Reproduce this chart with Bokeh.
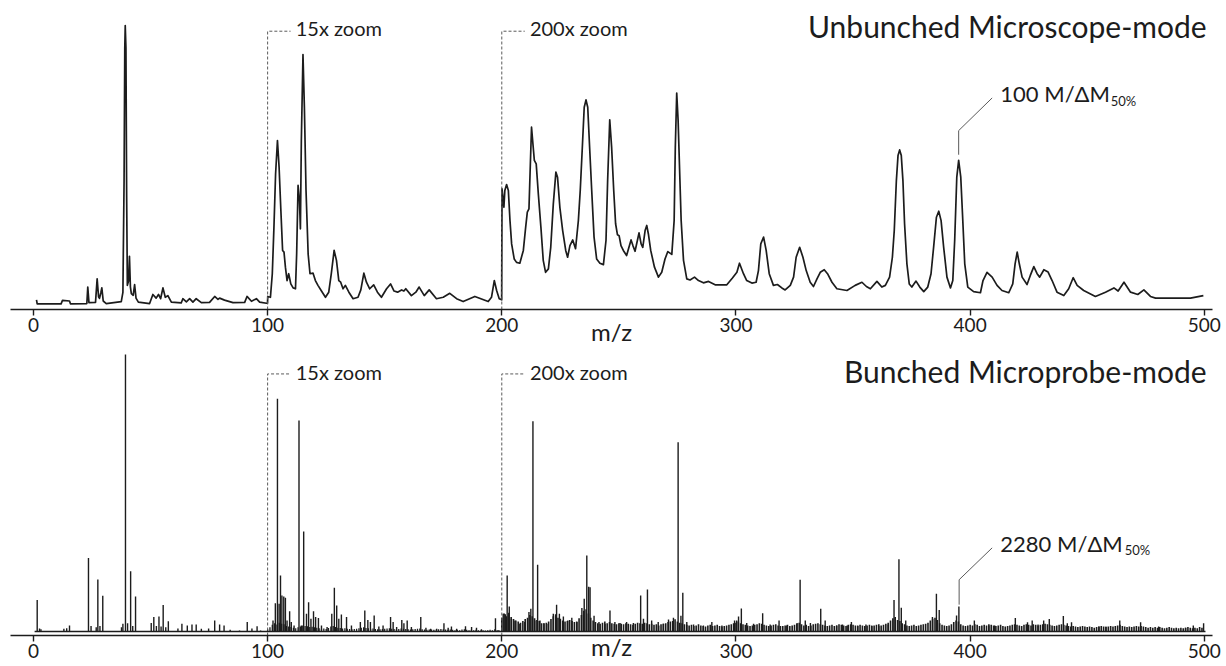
from bokeh.plotting import figure
from bokeh.models import Range1d, FixedTicker, Label
from bokeh.layouts import column
from bokeh.embed import file_html
from bokeh.resources import INLINE

# ---------------- data ----------------
tick_values = [0, 100, 200, 300, 400, 500]
tick_labels = ["0", "100", "200", "300", "400", "500"]
zoom_starts = [100, 200]
zoom_labels = ["15x zoom", "200x zoom"]

# Unbunched microscope-mode: continuous trace (displayed intensity, % of tallest peak)
trace_mz_0_100 = [1.3, 1.6, 11.8, 12.4, 15.4, 15.8, 22.8, 23.2, 23.7, 26.5,
                  27.2, 27.8, 28.2, 28.8, 29.2, 29.8, 31.1, 37.5, 38.2, 38.7,
                  39.0, 39.2, 39.5, 39.8, 40.1, 40.6, 41.0, 41.4, 41.8, 42.6,
                  43.2, 43.8, 44.8, 49.6, 51.0, 52.4, 53.4, 54.3, 55.3, 56.3,
                  57.4, 58.9, 63.1, 63.8, 65.3, 66.7, 68.1, 69.5, 71.7, 75.2,
                  77.4, 78.8, 79.5, 81.6, 85.2, 90.2, 91.2, 93.1, 95.2, 96.6,
                  99.5, 99.95]
trace_int_0_100 = [3.4, 2.0, 2.0, 3.2, 3.0, 2.0, 2.1, 7.9, 2.4, 2.5,
                   10.8, 4.5, 3.9, 6.0, 7.6, 3.0, 2.1, 2.8, 6.0, 45.0,
                   92.0, 100.0, 92.0, 40.0, 8.5, 10.0, 18.7, 8.0, 5.6, 5.0,
                   8.8, 4.0, 2.6, 2.1, 5.3, 4.0, 5.3, 3.8, 7.6, 4.3,
                   4.9, 2.6, 2.3, 3.8, 2.7, 3.8, 2.6, 3.8, 2.4, 2.5,
                   4.6, 3.6, 4.0, 3.3, 2.4, 2.5, 4.6, 2.9, 3.8, 2.6,
                   2.2, 2.2]
trace_mz_100_200 = [100.05, 101.2, 102.0, 102.7, 103.4, 104.2, 104.9, 105.6, 106.4, 107.0,
                    107.6, 108.3, 109.0, 109.9, 110.9, 111.9, 112.4, 113.0, 113.6, 114.0,
                    114.4, 115.1, 115.7, 116.4, 117.3, 118.1, 119.4, 120.4, 121.5, 123.0,
                    124.7, 126.1, 127.2, 128.4, 129.4, 130.4, 131.2, 132.2, 133.2, 134.7,
                    136.5, 138.6, 139.8, 141.1, 142.2, 143.6, 145.3, 146.9, 148.6, 150.8,
                    152.5, 154.0, 155.5, 157.2, 158.2, 159.0, 161.4, 163.3, 164.7, 166.9,
                    169.0, 172.1, 175.0, 177.8, 180.7, 183.5, 188.5, 194.2, 195.6, 196.8,
                    197.8, 198.9, 199.95]
trace_int_100_200 = [4.6, 4.3, 12.6, 29.0, 47.7, 59.5, 50.1, 36.0, 20.8, 20.2,
                     14.9, 10.2, 12.6, 9.0, 7.6, 7.3, 19.6, 43.7, 38.4, 28.4,
                     59.5, 89.8, 71.2, 41.9, 19.6, 12.6, 12.8, 10.2, 8.5, 6.5,
                     4.3, 6.1, 12.6, 20.8, 17.3, 10.2, 9.6, 7.3, 8.5, 6.1,
                     3.8, 4.3, 6.9, 12.8, 9.6, 7.3, 8.7, 6.1, 4.3, 7.3,
                     9.0, 6.5, 6.1, 6.9, 6.5, 7.3, 4.9, 6.1, 7.9, 4.9,
                     6.9, 3.8, 4.3, 5.7, 3.8, 2.8, 4.6, 2.8, 4.3, 10.2,
                     6.7, 3.8, 3.4]
trace_mz_200_300 = [200.1, 200.9, 201.3, 202.05, 202.8, 203.5, 204.2, 205.3, 206.3, 207.7,
                    209.2, 210.2, 210.9, 211.6, 212.2, 212.7, 213.3, 213.9, 214.7, 215.6,
                    216.7, 217.7, 218.7, 219.9, 220.9, 222.0, 223.1, 223.8, 224.8, 226.0,
                    227.3, 228.1, 229.1, 230.3, 231.5, 232.7, 233.5, 234.4, 235.2, 235.96,
                    236.7, 237.5, 238.4, 239.4, 240.5, 241.9, 243.4, 244.5, 245.2, 246.1,
                    246.9, 247.8, 248.6, 249.4, 250.1, 250.9, 251.9, 253.3, 254.3, 255.2,
                    256.0, 256.9, 257.9, 258.6, 259.5, 260.2, 261.2, 261.9, 262.6, 263.6,
                    265.2, 266.9, 268.3, 269.7, 270.9, 272.6, 273.6, 274.1, 274.7, 275.3,
                    275.9, 276.6, 277.6, 279.0, 280.4, 282.3, 284.0, 286.1, 288.3, 291.1,
                    296.1, 298.5, 300.4, 301.5]
trace_int_200_300 = [42.5, 36.0, 41.9, 44.0, 41.9, 31.3, 23.1, 17.8, 16.6, 16.3,
                     20.8, 29.0, 34.3, 35.4, 51.3, 64.2, 58.3, 52.5, 51.3, 40.7,
                     29.0, 17.3, 13.1, 14.3, 21.9, 37.2, 48.4, 46.6, 36.0, 27.8,
                     20.8, 18.4, 22.5, 24.5, 21.4, 31.3, 41.9, 57.2, 71.2, 73.8,
                     71.2, 57.2, 41.9, 25.5, 17.8, 16.3, 15.8, 24.3, 45.4, 66.8,
                     57.2, 41.9, 30.2, 26.3, 26.0, 22.5, 20.8, 19.0, 21.9, 24.5,
                     22.5, 20.5, 24.3, 27.0, 23.1, 21.9, 27.8, 29.6, 26.6, 20.8,
                     14.9, 11.4, 13.1, 17.8, 20.4, 19.4, 31.3, 57.2, 76.2, 66.5,
                     50.1, 31.3, 17.3, 10.8, 10.4, 11.4, 10.2, 9.4, 9.9, 8.7,
                     8.7, 11.1, 13.1, 16.3]
trace_mz_300_405 = [303.2, 304.6, 306.8, 308.6, 309.6, 310.6, 311.8, 312.9, 314.2, 316.0,
                    317.7, 319.6, 321.0, 323.2, 324.6, 325.7, 327.2, 328.6, 330.0, 331.7,
                    333.1, 334.6, 336.0, 337.7, 339.1, 341.0, 343.1, 347.4, 350.9, 353.8,
                    355.7, 357.4, 360.2, 362.3, 363.8, 365.6, 366.8, 367.6, 368.5, 369.2,
                    369.9, 370.6, 371.3, 372.0, 373.0, 374.0, 375.1, 376.9, 378.5, 380.2,
                    381.9, 383.3, 384.4, 385.6, 386.6, 387.6, 388.7, 390.1, 391.6, 392.6,
                    393.4, 394.3, 395.1, 396.0, 396.8, 397.7, 399.0, 401.5, 404.4]
trace_int_300_405 = [12.6, 10.2, 9.3, 9.6, 13.7, 23.1, 25.5, 20.8, 12.6, 8.5,
                     8.8, 7.6, 6.9, 8.5, 11.4, 18.4, 21.9, 18.4, 13.7, 9.6,
                     8.1, 10.8, 13.1, 14.0, 12.6, 9.6, 7.3, 6.7, 8.5, 9.6,
                     8.1, 7.3, 9.9, 7.9, 8.5, 11.4, 18.4, 27.8, 45.4, 54.2,
                     56.2, 54.2, 45.4, 30.2, 16.1, 9.0, 7.9, 10.0, 7.9, 6.3,
                     7.9, 12.6, 21.9, 32.5, 34.6, 31.3, 21.9, 11.4, 7.6, 10.2,
                     24.3, 46.6, 52.5, 46.6, 32.5, 16.1, 7.9, 6.3, 5.9]
trace_mz_405_500 = [405.5, 407.2, 409.4, 411.5, 413.6, 416.5, 418.2, 419.2, 420.1, 421.0,
                    422.2, 424.3, 425.7, 427.2, 428.6, 429.7, 431.5, 433.3, 435.0, 437.1,
                    440.0, 442.1, 444.0, 445.7, 448.5, 453.5, 457.8, 461.4, 463.2, 465.7,
                    468.5, 471.6, 474.2, 477.0, 479.2, 487.0, 494.1, 499.6]
trace_int_405_500 = [10.2, 13.1, 11.4, 8.5, 6.7, 5.9, 9.0, 16.1, 20.2, 16.1,
                     11.4, 8.8, 12.0, 15.1, 12.6, 11.4, 14.0, 13.2, 10.2, 6.1,
                     4.9, 7.3, 11.2, 8.5, 6.7, 4.6, 6.1, 7.6, 6.5, 9.6,
                     6.1, 5.3, 6.9, 4.6, 4.0, 4.0, 4.0, 4.9]

# Bunched microprobe-mode: resolved peaks (stick heights, % of tallest)
stick_mz = [1.6, 2.6, 3.2, 13.0, 14.2, 15.4, 23.5, 24.6, 26.8, 27.5, 28.4, 29.6, 37.6, 38.2, 39.3,
            40.2, 41.5, 42.4, 43.6, 50.3, 51.4, 52.5, 53.6, 54.5, 55.4, 56.5, 57.6, 61.7, 63.4,
            65.7, 67.7, 69.5, 71.7, 74.8, 77.4, 79.5, 81.4, 84.0, 88.0, 91.3, 93.3, 95.5, 97.0,
            102.3, 103.3, 104.2, 104.9, 105.5, 106.1, 106.9, 107.6, 108.3, 109.4, 110.1, 111.3,
            113.4, 114.4, 115.4, 116.6, 117.5, 118.5, 119.6, 120.5, 121.7, 123.0, 125.4, 127.4,
            128.5, 129.5, 130.4, 131.5, 133.7, 135.8, 139.6, 141.5, 142.8, 143.9, 145.5, 147.5,
            149.3, 152.5, 153.6, 155.1, 157.3, 158.2, 159.6, 161.4, 165.4, 167.6, 169.6, 172.2,
            175.3, 177.1, 178.5, 180.7, 184.5, 187.1, 189.2, 191.3, 197.3, 198.5,
            200.6, 201.5, 202.3, 203.2, 204.1, 205.6, 207.7, 209.8, 211.6, 212.4, 213.3, 214.1,
            215.3, 216.3, 218.0, 219.8, 222.0, 223.4, 224.6, 226.3, 228.2, 229.9, 232.1, 234.2,
            235.2, 236.3, 237.1, 237.7, 239.4, 241.5, 244.1, 246.2, 248.3, 250.5, 253.3, 256.2,
            259.3, 260.5, 262.2, 264.0, 266.8, 269.0, 271.2, 273.3, 275.3, 276.5, 277.3, 279.0,
            281.9, 286.1, 289.7, 294.0, 299.4,
            300.3, 301.1, 302.3, 304.6, 307.5, 311.4, 314.6, 318.4, 321.7, 326.1, 327.4, 329.6,
            331.8, 336.2, 338.1, 343.0, 345.5, 347.5, 349.3, 352.0, 355.5, 358.0, 361.0, 365.0,
            367.5, 369.6, 370.6, 372.5, 383.9, 385.6, 386.8, 394.2, 395.2, 401.8, 408.0, 410.5,
            419.3, 424.5, 426.5, 429.0, 431.4, 433.8, 439.8, 441.5, 443.3, 455.0, 458.0, 463.9,
            472.8, 480.5, 492.0, 495.3, 499.7]
stick_h = [11.4, 1.1, 0.8, 1.0, 1.2, 2.2, 26.5, 2.0, 1.5, 18.8, 2.0, 12.9, 1.5, 2.8, 100.0,
           3.0, 21.8, 2.0, 12.6, 3.1, 5.2, 2.0, 5.4, 1.8, 9.6, 1.5, 3.7, 1.1, 2.8,
           2.2, 2.5, 2.5, 1.0, 1.1, 4.0, 2.5, 2.2, 0.6, 0.4, 3.4, 1.1, 1.9, 0.4,
           4.0, 10.2, 84.0, 10.0, 20.2, 13.0, 12.6, 12.2, 4.0, 7.3, 3.4, 2.2,
           76.2, 2.2, 36.1, 6.4, 10.6, 4.6, 7.3, 5.2, 4.9, 2.2, 1.6, 6.4,
           15.8, 9.4, 4.6, 6.1, 5.2, 2.2, 3.4, 7.6, 4.2, 3.4, 5.8, 1.8,
           2.2, 5.2, 3.4, 1.6, 4.2, 3.0, 4.0, 1.6, 5.2, 1.4, 1.0, 1.0,
           3.0, 1.4, 1.8, 1.0, 1.9, 1.6, 1.4, 0.8, 4.8, 0.5,
           6.4, 6.2, 20.2, 9.0, 4.6, 4.0, 2.8, 3.4, 7.0, 8.2, 75.9, 4.0,
           24.1, 4.0, 3.1, 2.8, 6.4, 9.7, 6.4, 5.4, 4.0, 5.0, 3.4, 8.5,
           11.8, 27.4, 16.2, 16.0, 5.7, 3.4, 2.8, 7.6, 3.4, 3.1, 3.4, 3.1,
           13.0, 4.6, 15.2, 4.0, 3.4, 2.8, 4.3, 5.0, 68.3, 5.7, 14.0, 3.4,
           2.5, 2.2, 3.4, 2.2, 4.0,
           4.0, 5.4, 8.3, 3.1, 2.8, 6.6, 2.5, 4.0, 2.2, 3.1, 18.7, 4.0,
           3.1, 8.2, 4.0, 2.2, 2.5, 2.2, 3.4, 2.2, 2.5, 2.2, 2.0, 2.5,
           11.4, 26.1, 8.6, 4.0, 5.2, 13.6, 7.8, 5.8, 9.0, 4.0, 2.2, 2.2,
           4.9, 3.3, 4.0, 2.5, 4.0, 4.5, 5.6, 3.0, 3.3, 1.8, 1.8, 4.0,
           3.3, 1.8, 1.4, 2.2, 3.0]

# unresolved low-level peaks (one value per m/z unit)
grass_lo_start = 100
grass_lo = [0.8, 1.5, 2.4, 3.0, 2.5, 3.2, 2.8, 2.6, 2.0, 1.8,
            1.6, 1.4, 1.2, 1.5, 1.8, 2.2, 2.0, 1.9, 1.6, 1.7,
            1.5, 1.4, 1.2, 1.0, 1.1, 0.9, 1.3, 1.8, 2.0, 1.6,
            1.4, 1.3, 1.1, 1.2, 1.0, 0.9, 0.8, 0.9, 1.0, 1.2,
            1.4, 1.5, 1.3, 1.2, 1.0, 1.1, 0.9, 0.8, 0.8, 0.9,
            1.0, 1.1, 1.2, 1.0, 0.9, 0.8, 0.9, 1.1, 1.0, 0.9,
            0.8, 0.7, 0.8, 0.9, 1.0, 1.1, 0.8, 0.7, 0.6, 0.7,
            0.7, 0.6, 0.7, 0.8, 0.9, 0.8, 0.7, 0.6, 0.7, 0.6,
            0.5, 0.6, 0.5, 0.7, 0.8, 0.6, 0.5, 0.6, 0.5, 0.6,
            0.5, 0.4, 0.5, 0.4, 0.5, 0.6, 0.5, 0.8, 0.5, 0.4]
grass_hi_start = 200
grass_hi = [5.0, 6.5, 5.5, 6.8, 5.2, 4.5, 4.0, 3.6, 3.2, 3.8,
            4.5, 5.0, 6.0, 5.5, 4.8, 4.2, 3.8, 3.0, 2.8, 3.2,
            3.6, 4.5, 5.5, 6.2, 5.0, 4.6, 4.0, 3.6, 3.8, 4.2,
            3.8, 3.4, 3.6, 4.8, 6.0, 7.5, 8.0, 6.5, 5.0, 4.0,
            3.4, 3.0, 2.8, 3.2, 3.6, 3.0, 3.4, 3.0, 2.8, 2.6,
            3.0, 2.8, 2.6, 3.0, 2.8, 2.6, 2.4, 2.8, 3.2, 3.0,
            2.8, 3.2, 3.0, 2.6, 2.8, 2.4, 2.6, 2.2, 2.6, 2.8,
            3.0, 3.4, 3.6, 3.8, 4.4, 3.6, 3.2, 3.0, 2.6, 2.4,
            2.2, 2.4, 2.0, 2.2, 2.6, 2.2, 2.0, 1.8, 2.2, 2.4,
            2.0, 2.2, 2.4, 2.0, 1.8, 2.0, 2.2, 2.4, 2.6, 3.0,
            3.2, 3.6, 3.0, 2.6, 2.4, 2.2, 2.0, 2.2, 2.4, 2.6,
            3.0, 2.8, 2.4, 2.2, 2.0, 2.2, 2.4, 2.6, 2.2, 2.0,
            2.0, 2.2, 2.4, 2.0, 2.2, 2.4, 2.8, 3.2, 2.6, 2.2,
            2.4, 2.0, 2.2, 2.6, 2.8, 3.0, 2.6, 2.4, 2.2, 2.0,
            2.2, 2.4, 2.0, 2.2, 2.6, 2.4, 2.2, 2.0, 2.4, 2.6,
            2.4, 2.2, 2.0, 2.4, 2.2, 2.0, 2.2, 2.4, 2.0, 2.2,
            2.4, 2.6, 2.2, 2.4, 2.8, 3.2, 4.0, 4.8, 5.2, 4.2,
            3.8, 3.0, 2.6, 2.2, 2.0, 2.2, 2.4, 2.0, 2.2, 2.4,
            2.6, 2.8, 3.2, 4.0, 4.6, 5.0, 4.2, 3.0, 2.4, 2.2,
            2.0, 2.2, 2.6, 3.4, 4.0, 3.6, 2.6, 2.2, 2.0, 2.2,
            2.4, 2.2, 2.6, 2.4, 2.0, 2.2, 2.4, 2.2, 2.6, 2.4,
            2.2, 2.0, 2.2, 2.4, 2.0, 1.8, 2.0, 2.2, 2.4, 2.6,
            2.4, 2.2, 2.0, 2.4, 2.6, 2.4, 2.2, 2.6, 2.4, 2.2,
            2.4, 2.6, 2.8, 2.6, 2.4, 2.2, 2.0, 2.2, 2.4, 2.6,
            2.4, 2.2, 2.0, 1.8, 2.0, 1.8, 1.6, 1.8, 2.0, 1.8,
            1.6, 1.8, 1.6, 1.4, 1.6, 1.8, 2.0, 1.8, 1.6, 1.8,
            2.0, 1.8, 2.0, 2.2, 2.4, 2.0, 1.8, 1.6, 1.8, 1.6,
            1.8, 2.0, 1.8, 2.0, 1.8, 1.6, 1.4, 1.6, 1.4, 1.6,
            1.4, 1.6, 1.4, 1.2, 1.4, 1.6, 1.4, 1.2, 1.4, 1.2,
            1.4, 1.2, 1.4, 1.6, 1.4, 1.2, 1.4, 1.2, 1.6, 1.4]

# ---------------- styling ----------------
FONT = "Lato"
INK = "#1c1c1c"
GREY = "#5a5a5a"
X_RANGE = (-9.8, 503.5)


def base_figure(height, y_range, border_top, border_bottom, label_standoff):
    p = figure(width=1224, height=height, output_backend="svg", toolbar_location=None,
               x_range=Range1d(*X_RANGE), y_range=Range1d(*y_range), y_axis_location=None,
               min_border_left=10, min_border_right=12, min_border_top=border_top,
               min_border_bottom=border_bottom)
    p.grid.visible = False
    p.outline_line_color = None
    ax = p.xaxis[0]
    ax.ticker = FixedTicker(ticks=tick_values)
    ax.major_label_overrides = {v: s for v, s in zip(tick_values, tick_labels)}
    ax.axis_line_color = INK
    ax.axis_line_width = 1.6
    ax.major_tick_line_color = INK
    ax.major_tick_line_width = 1.4
    ax.major_tick_out = 6
    ax.major_tick_in = 0
    ax.minor_tick_out = 0
    ax.minor_tick_in = 0
    ax.major_label_standoff = 2
    ax.major_label_text_font = FONT
    ax.major_label_text_font_size = "19px"
    ax.major_label_text_color = INK
    ax.axis_label = "m/z"
    ax.axis_label_text_font = FONT
    ax.axis_label_text_font_size = "24px"
    ax.axis_label_text_font_style = "normal"
    ax.axis_label_text_color = INK
    ax.axis_label_standoff = label_standoff
    return p


def add_text(p, x, y, text, size, lift, align="left", color=INK):
    p.add_layout(Label(x=x, y=y, y_offset=lift, text=text, text_font=FONT, text_font_size=size,
                       text_color=color, text_align=align, text_baseline="alphabetic"))


def add_zoom_marks(p, y_bottom, y_top, y_text):
    for start, lab in zip(zoom_starts, zoom_labels):
        p.line([start, start, start + 9.8], [y_bottom, y_top, y_top], line_color=GREY,
               line_width=1, line_dash="3 2")
        add_text(p, start + 12.0, y_text, lab, "20px", 10)


# ---------------- top panel ----------------
top_mz = trace_mz_0_100 + trace_mz_100_200 + trace_mz_200_300 + trace_mz_300_405 + trace_mz_405_500
top_int = (trace_int_0_100 + trace_int_100_200 + trace_int_200_300 + trace_int_300_405
           + trace_int_405_500)

top = base_figure(351, (0, 106), 8, 42, -18)
top.line(top_mz, top_int, line_color=INK, line_width=1.7, line_join="round")
add_zoom_marks(top, 0, 98.0, 95.5)
add_text(top, 501.0, 95.3, "Unbunched Microscope-mode", "30px", 13, align="right")
top.line([395.1, 395.1, 409.4], [54.5, 63.0, 74.5], line_color=GREY, line_width=1)
add_text(top, 412.9, 72.5, "100 M/\u0394M", "22px", 10)
add_text(top, 460.0, 71.3, "50%", "13px", 6)

# ---------------- bottom panel ----------------
bot = base_figure(315, (-1.44, 101.1), 0, 31, -29)
grass_lo_mz = [grass_lo_start + i for i in range(len(grass_lo))]
grass_hi_mz = [grass_hi_start + i for i in range(len(grass_hi))]
bot.segment(x0=grass_lo_mz, y0=0, x1=grass_lo_mz, y1=grass_lo, line_color=INK, line_width=1.3)
bot.segment(x0=grass_hi_mz, y0=0, x1=grass_hi_mz, y1=grass_hi, line_color=INK, line_width=1.6)
bot.segment(x0=stick_mz, y0=0, x1=stick_mz, y1=stick_h, line_color=INK, line_width=1.4)
bot.line([0.5, 500.5], [0, 0], line_color=INK, line_width=1.5)
add_zoom_marks(bot, -1.44, 93.0, 90.0)
add_text(bot, 501.0, 89.4, "Bunched Microprobe-mode", "30px", 13, align="right")
bot.line([395.3, 395.3, 409.4], [9.7, 18.7, 30.2], line_color=GREY, line_width=1)
add_text(bot, 412.9, 28.3, "2280 M/\u0394M", "22px", 10)
add_text(bot, 466.0, 27.1, "50%", "13px", 6)

layout = column(top, bot, spacing=0)
open("out.html", "w").write(file_html(layout, INLINE))
